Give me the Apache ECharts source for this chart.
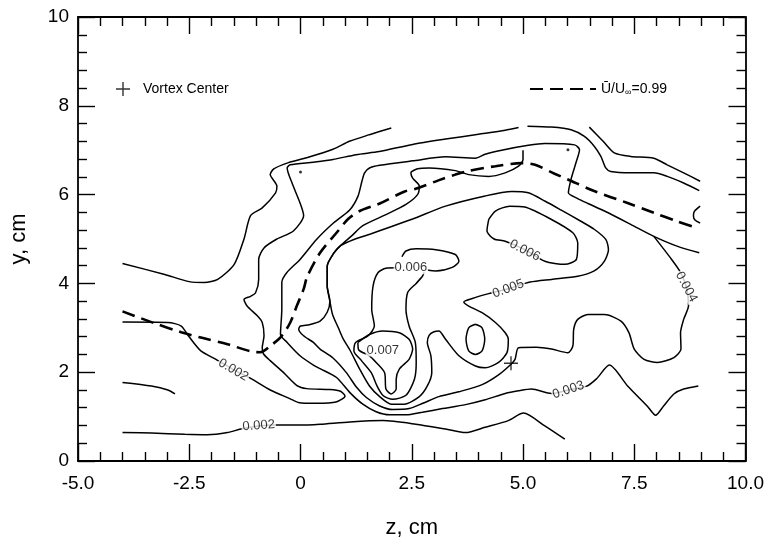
<!DOCTYPE html>
<html>
<head>
<meta charset="utf-8">
<script src="https://cdn.jsdelivr.net/npm/echarts@6/dist/echarts.min.js"></script>
<style>
  html, body { margin: 0; padding: 0; background: #fff; }
  #chart { width: 767px; height: 544px; }
</style>
</head>
<body>
<div id="chart"></div>
<script>
// contour lines, points are [z, y] in cm
var outerLine = [[-4.0,4.45],[-3.05,4.2],[-2.5,4.04],[-2.16,4.02],[-1.86,4.09],[-1.49,4.43],[-1.27,5.0],[-1.12,5.53],[-0.86,5.7],[-0.56,6.04],[-0.53,6.19],[-0.68,6.45],[-0.6,6.58],[-0.27,6.72],[0.14,6.83],[0.73,7.02],[1.1,7.2],[1.55,7.35],[2.04,7.5]];
var c002Left = [[-4.0,3.13],[-2.98,3.12],[-2.68,3.04],[-2.52,2.82],[-2.24,2.48],[-1.9,2.29],[-1.51,2.06],[-1.12,1.86],[-0.68,1.6],[-0.23,1.4],[-0.05,1.32],[0.36,1.3],[0.8,1.33],[1.0,1.46],[0.9,1.57],[0.66,1.61],[0.14,1.63],[-0.08,1.7],[-0.38,1.99],[-0.68,2.26],[-0.83,2.41],[-0.86,2.55],[-0.82,2.82],[-0.86,3.12],[-0.97,3.27],[-1.2,3.49],[-1.27,3.64],[-1.12,3.71],[-1.01,3.79],[-0.94,4.09],[-0.94,4.54],[-0.82,4.8],[-0.53,5.0],[-0.16,5.18],[0.07,5.53],[-0.01,5.81],[-0.19,6.26],[-0.3,6.6],[-0.23,6.67],[0.29,6.73],[0.73,6.79],[1.25,6.9],[1.77,6.97],[2.52,7.13],[3.26,7.25],[4.0,7.36],[4.6,7.45],[4.9,7.51]];
var c002Right = [[5.1,7.54],[5.64,7.52],[6.08,7.46],[6.38,7.31],[6.6,7.09],[6.75,6.86],[6.86,6.6],[6.97,6.52],[7.42,6.49],[7.94,6.49],[8.24,6.41],[8.61,6.26],[8.96,6.09]];
var c002Bottom = [[-4.0,0.64],[-3.35,0.63],[-2.6,0.6],[-2.09,0.59],[-1.64,0.64],[-1.34,0.72],[-0.94,0.79],[-0.53,0.81],[0.0,0.81],[0.44,0.83],[1.11,0.88],[1.85,0.91],[2.59,0.83],[3.26,0.72],[3.71,0.64],[4.15,0.76],[4.67,0.91],[5.01,1.08],[5.49,0.79],[5.94,0.49]];
var leftShort = [[-4.0,1.77],[-3.35,1.69],[-2.98,1.6],[-2.82,1.51]];
var rightOuter = [[6.49,7.52],[6.8,7.2],[7.05,6.94],[7.42,6.86],[7.94,6.82],[8.24,6.67],[8.61,6.49],[8.98,6.3]];
var c003 = [[8.96,4.69],[8.46,4.84],[7.94,5.06],[7.42,5.33],[6.83,5.63],[6.46,5.8],[6.23,5.91],[6.02,6.04],[6.08,6.35],[6.2,6.75],[6.27,7.01],[6.16,7.12],[5.49,7.15],[5.12,7.11],[4.52,7.0],[4.15,6.91],[3.93,6.82],[3.26,6.85],[2.52,6.76],[1.78,6.66],[1.55,6.6],[1.44,6.49],[1.38,6.3],[1.29,5.96],[1.11,5.66],[0.74,5.36],[0.36,4.99],[-0.01,4.54],[-0.31,4.24],[-0.42,4.02],[-0.42,3.42],[-0.45,2.85],[-0.3,2.67],[-0.01,2.37],[0.29,2.16],[0.44,2.08],[0.81,1.88],[1.11,1.54],[1.4,1.28],[1.7,1.11],[2.0,1.04],[2.37,1.04],[2.74,1.1],[3.19,1.18],[3.71,1.27],[4.15,1.38],[4.6,1.52],[4.9,1.58],[5.19,1.62],[5.64,1.52],[6.02,1.6],[6.42,1.68],[6.65,1.85],[6.94,2.16],[7.35,1.69],[7.79,1.24],[7.98,1.03],[8.16,1.24],[8.39,1.51],[8.61,1.62],[8.94,1.69]];
var c004 = [[5.0,7.0],[5.0,6.79],[4.9,6.64],[4.6,6.49],[4.23,6.41],[3.78,6.45],[3.48,6.54],[2.89,6.6],[2.63,6.58],[2.48,6.49],[2.52,6.37],[2.67,6.19],[2.63,6.0],[2.37,5.78],[1.92,5.55],[1.4,5.3],[1.15,5.07],[0.9,4.85],[0.74,4.67],[0.6,4.39],[0.6,3.94],[0.66,3.6],[0.6,3.35],[0.44,3.15],[0.2,3.07],[0.0,3.04],[-0.04,2.97],[0.07,2.82],[0.29,2.67],[0.44,2.52],[0.73,2.32],[1.03,1.99],[1.26,1.66],[1.48,1.43],[1.78,1.24],[2.07,1.16],[2.44,1.18],[2.75,1.3],[3.11,1.45],[3.56,1.56],[4.08,1.72],[4.45,1.94],[4.73,2.18],[4.82,2.29],[4.9,2.55],[5.3,2.56],[5.64,2.52],[6.01,2.44],[6.12,2.59],[6.14,2.97],[6.23,3.19],[6.46,3.3],[6.83,3.3],[7.2,3.15],[7.38,2.89],[7.5,2.52],[7.72,2.29],[8.02,2.22],[8.39,2.33],[8.55,2.52],[8.54,2.89],[8.61,3.19],[8.72,3.5],[8.67,3.92],[8.52,4.28],[8.31,4.58],[7.94,5.06]];
var c005 = [[1.59,5.12],[2.52,5.45],[3.26,5.74],[4.15,5.97],[4.75,6.07],[5.12,6.04],[5.5,5.85],[5.86,5.65],[6.3,5.4],[6.6,5.22],[6.86,4.99],[6.92,4.76],[6.83,4.5],[6.6,4.28],[6.23,4.16],[5.64,4.09],[5.16,4.03],[4.67,3.88],[4.23,3.77],[3.86,3.66],[3.67,3.58],[3.78,3.49],[4.08,3.34],[4.38,3.12],[4.6,2.89],[4.67,2.74],[4.64,2.44],[4.45,2.22],[4.15,2.1],[3.93,2.14],[3.56,2.37],[3.26,2.74],[3.11,2.93],[3.0,2.91],[2.89,2.83],[2.85,2.67],[2.93,2.37],[2.95,1.99],[2.85,1.69],[2.67,1.45],[2.33,1.28],[2.04,1.28],[1.78,1.45],[1.55,1.69],[1.33,2.07],[1.11,2.5],[0.96,2.75],[0.85,3.0],[0.72,3.3],[0.66,3.6],[0.6,3.94],[0.6,4.39],[0.74,4.67],[0.9,4.85],[1.2,4.99],[1.59,5.12]];
var c006Cap = [[2.85,4.3],[3.04,4.28],[3.41,4.36],[3.56,4.5],[3.48,4.65],[3.04,4.76],[2.6,4.78],[2.37,4.73],[2.28,4.6]];
var c006Peak = [[2.15,4.35],[1.92,4.34],[1.74,4.24],[1.63,3.94],[1.6,3.42],[1.66,3.04],[1.52,2.82],[1.24,2.67],[1.2,2.48],[1.37,2.26],[1.59,1.99],[1.72,1.69],[1.86,1.47],[2.07,1.39],[2.37,1.48],[2.56,1.84],[2.6,2.22],[2.58,2.67],[2.44,3.04],[2.37,3.42],[2.41,3.8],[2.6,4.0],[2.74,4.16],[2.78,4.25]];
var c006Right = [[4.23,5.44],[4.19,5.18],[4.35,5.0],[4.6,4.95],[5.04,4.76],[5.49,4.5],[5.94,4.43],[6.2,4.54],[6.23,4.91],[6.12,5.14],[5.64,5.44],[5.04,5.72],[4.7,5.74],[4.38,5.63],[4.23,5.44]];
var c007 = [[1.29,2.67],[1.55,2.85],[1.85,2.93],[2.22,2.89],[2.44,2.74],[2.52,2.52],[2.44,2.29],[2.22,2.07],[2.15,1.84],[2.15,1.62],[2.04,1.51],[1.92,1.62],[1.89,1.99],[1.7,2.22],[1.55,2.37],[1.31,2.5],[1.29,2.67]];
var ovalLoop = [[3.93,3.08],[4.08,3.0],[4.14,2.74],[4.08,2.48],[3.93,2.4],[3.78,2.48],[3.72,2.74],[3.78,3.0],[3.93,3.08]];
var edgeArc = [[8.98,5.74],[8.85,5.62],[8.83,5.52],[8.87,5.42],[8.98,5.36]];
var dashedLine = [[-4.0,3.37],[-3.3,3.11],[-2.68,2.9],[-2.24,2.78],[-1.64,2.63],[-1.12,2.47],[-0.9,2.45],[-0.68,2.59],[-0.42,2.82],[-0.23,3.12],[-0.08,3.5],[0.07,3.87],[0.15,4.15],[0.44,4.69],[0.81,5.14],[1.07,5.45],[1.33,5.63],[1.78,5.8],[2.34,6.07],[2.59,6.13],[3.1,6.32],[3.48,6.45],[3.76,6.53],[4.38,6.64],[4.97,6.71],[5.27,6.67],[5.71,6.47],[6.01,6.34],[6.6,6.08],[7.35,5.81],[7.94,5.59],[8.46,5.4],[8.91,5.25]];

var vortexCenter = [[4.73, 2.2]];
var dots = [[0.0, 6.51], [6.01, 7.01]];
var smallRing = [[2.04, 4.0]];

var labelText = ['0.002', '0.002', '0.003', '0.004', '0.005', '0.006', '0.006', '0.007'];
var labelPos = [[-1.51,2.05], [-0.94,0.8], [6.02,1.6], [8.67,3.92], [4.67,3.88], [5.04,4.74], [2.48,4.35], [1.85,2.5]];
var labelRot = [-30, 4, 18, -62, 20, -27, 0, 0];

var solidLines = [outerLine, c002Left, c002Right, c002Bottom, leftShort, rightOuter, c003, c004, c005,
                  c006Cap, c006Peak, c006Right, c007, ovalLoop, edgeArc];

var FONT = 'Liberation Sans, Arial, sans-serif';
var plusPath = 'path://M0,9H20V11H0Z M9,0H11V20H9Z';

var chart = echarts.init(document.getElementById('chart'), null, { renderer: 'canvas' });

var series = solidLines.map(function (pts) {
  return {
    type: 'line',
    data: pts,
    symbol: 'none',
    smooth: 0.25,
    silent: true,
    lineStyle: { color: '#000', width: 1.5 },
    z: 2
  };
});

series.push({
  name: 'U/U∞=0.99',
  type: 'line',
  data: dashedLine,
  symbol: 'none',
  smooth: 0.3,
  silent: true,
  itemStyle: { color: '#000' },
  lineStyle: { color: '#000', width: 2.6, type: [13, 7] },
  z: 3
});

series.push({
  name: 'Vortex Center',
  type: 'scatter',
  data: vortexCenter,
  symbol: plusPath,
  symbolSize: 14,
  itemStyle: { color: '#000' },
  z: 6
});

series.push({
  type: 'scatter',
  data: dots,
  symbolSize: 3,
  itemStyle: { color: '#000' },
  z: 6
});

series.push({
  type: 'scatter',
  data: smallRing,
  symbol: 'emptyCircle',
  symbolSize: 6,
  itemStyle: { color: '#fff', borderColor: '#000', borderWidth: 1.2 },
  z: 6
});

series.push({
  type: 'scatter',
  symbolSize: 0,
  silent: true,
  z: 5,
  data: labelPos.map(function (p, i) {
    return { value: p, name: labelText[i], label: { rotate: labelRot[i] } };
  }),
  label: {
    show: true,
    position: 'inside',
    formatter: '{b}',
    fontSize: 13,
    fontFamily: FONT,
    color: '#000',
    backgroundColor: '#fff',
    padding: [0, 1]
  }
});

var tickStyle = { color: '#000', width: 1.4 };
var frameLine = { show: true, onZero: false, lineStyle: { color: '#000', width: 1.8 } };

var option = {
  animation: false,
  backgroundColor: '#fff',
  grid: { left: 76, right: 18, top: 17, bottom: 82, containLabel: false },
  legend: [
    {
      data: ['Vortex Center'],
      left: 111, top: 77,
      itemWidth: 14, itemHeight: 14,
      selectedMode: false,
      textStyle: { fontSize: 14, fontFamily: FONT, color: '#000', padding: [0, 0, 0, 8] }
    },
    {
      data: ['U/U∞=0.99'],
      left: 524, top: 76,
      itemWidth: 66, itemHeight: 14,
      selectedMode: false,
      itemStyle: { opacity: 0 },
      formatter: function () { return '{m|Ū/U}{s|∞}{m|=0.99}'; },
      textStyle: {
        fontSize: 14, fontFamily: FONT, color: '#000',
        rich: {
          m: { fontSize: 14, fontFamily: FONT, color: '#000', lineHeight: 16 },
          s: { fontSize: 9, fontFamily: FONT, color: '#000', lineHeight: 16, verticalAlign: 'bottom', padding: [7, 0, 0, 0] }
        }
      }
    }
  ],
  xAxis: [
    {
      type: 'value', min: -5, max: 10, interval: 2.5, position: 'bottom',
      name: 'z, cm', nameLocation: 'middle', nameGap: 56,
      nameTextStyle: { fontSize: 22, fontFamily: FONT, color: '#000' },
      axisLine: frameLine,
      axisTick: { inside: true, length: 17, lineStyle: tickStyle },
      minorTick: { show: true, splitNumber: 5, length: 9, lineStyle: tickStyle },
      axisLabel: {
        fontSize: 19, fontFamily: FONT, color: '#000', margin: 13,
        formatter: function (v) { return v === 0 ? '0' : v.toFixed(1); }
      },
      splitLine: { show: false }
    },
    {
      type: 'value', min: -5, max: 10, interval: 2.5, position: 'top',
      axisLine: frameLine,
      axisTick: { inside: true, length: 17, lineStyle: tickStyle },
      minorTick: { show: true, splitNumber: 5, length: 9, lineStyle: tickStyle },
      axisLabel: { show: false },
      splitLine: { show: false }
    }
  ],
  yAxis: [
    {
      type: 'value', min: 0, max: 10, interval: 2, position: 'left',
      name: 'y, cm', nameLocation: 'middle', nameGap: 48,
      nameTextStyle: { fontSize: 22, fontFamily: FONT, color: '#000' },
      axisLine: frameLine,
      axisTick: { show: true, inside: true, length: 17, lineStyle: tickStyle },
      minorTick: { show: true, splitNumber: 5, length: 9, lineStyle: tickStyle },
      axisLabel: { fontSize: 19, fontFamily: FONT, color: '#000', margin: 9 },
      splitLine: { show: false }
    },
    {
      type: 'value', min: 0, max: 10, interval: 2, position: 'right',
      axisLine: frameLine,
      axisTick: { show: true, inside: true, length: 17, lineStyle: tickStyle },
      minorTick: { show: true, splitNumber: 5, length: 9, lineStyle: tickStyle },
      axisLabel: { show: false },
      splitLine: { show: false }
    }
  ],
  series: series
};

chart.setOption(option);
</script>
</body>
</html>
